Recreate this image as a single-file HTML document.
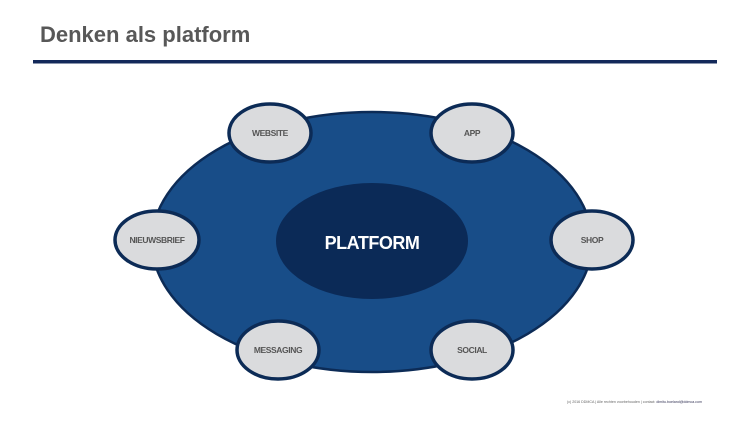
<!DOCTYPE html>
<html><head><meta charset="utf-8"><style>
html,body{margin:0;padding:0;background:#fff;width:750px;height:422px;overflow:hidden}
</style></head><body>
<svg width="750" height="422" viewBox="0 0 750 422" xmlns="http://www.w3.org/2000/svg" font-family="Liberation Sans, Arial, sans-serif">
<text x="40" y="42" font-size="22" font-weight="bold" fill="#585858">Denken als platform</text>
<rect x="33" y="60" width="684" height="3.5" fill="#13295a"/>
<ellipse cx="372" cy="242" rx="220" ry="130" fill="#184d88" stroke="#0c2b56" stroke-width="2.5"/>
<ellipse cx="372" cy="241" rx="96" ry="58" fill="#0b2a57"/>
<text x="372" y="244" font-size="18" font-weight="bold" fill="#fff" text-anchor="middle" dominant-baseline="middle" letter-spacing="-0.5">PLATFORM</text>
<g fill="#dadbdd" stroke="#0c2b56" stroke-width="3.5">
<ellipse cx="270" cy="133" rx="41" ry="29"/>
<ellipse cx="472" cy="133" rx="41" ry="29"/>
<ellipse cx="157" cy="240" rx="42" ry="29"/>
<ellipse cx="592" cy="240" rx="41" ry="29"/>
<ellipse cx="278" cy="350" rx="41" ry="29"/>
<ellipse cx="472" cy="350" rx="41" ry="29"/>
</g>
<g font-size="8.5" font-weight="bold" fill="#555" text-anchor="middle" letter-spacing="-0.4">
<text x="270" y="136">WEBSITE</text>
<text x="472" y="136">APP</text>
<text x="157" y="243">NIEUWSBRIEF</text>
<text x="592" y="243">SHOP</text>
<text x="278" y="353">MESSAGING</text>
<text x="472" y="353">SOCIAL</text>
</g>
<text x="567" y="403" font-size="3.6" fill="#666">(c) 2016 DDMCA | Alle rechten voorbehouden | contact: <tspan fill="#335">dimitu.boeland@ddmca.com</tspan></text>
</svg>
</body></html>
